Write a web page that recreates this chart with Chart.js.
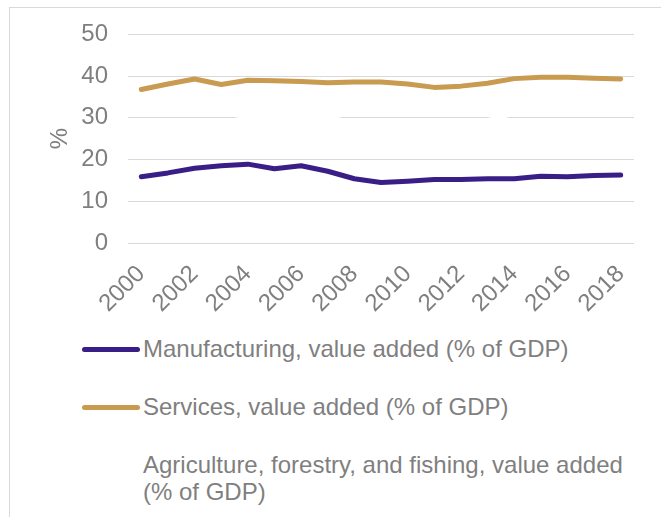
<!DOCTYPE html>
<html>
<head>
<meta charset="utf-8">
<script src="https://cdn.jsdelivr.net/npm/chart.js@4"></script>
<style>
    html, body { margin: 0; padding: 0; background: #ffffff; }
    body { width: 661px; height: 517px; position: relative; overflow: hidden; font-family: "Liberation Sans", Arial, sans-serif; }
    .frame { position: absolute; left: 9px; top: 7px; right: -2px; bottom: -2px; border-left: 1px solid #d9d9d9; border-top: 1px solid #d9d9d9; }
    .chart-box { position: absolute; left: 0; top: 0; width: 661px; height: 321px; }
    .legend { position: absolute; left: 82px; top: 335px; width: 570px; color: #7f7f7f; font-size: 24px; line-height: 27px; }
    .legend-item { position: relative; padding-left: 61px; margin-bottom: 31px; }
    .legend-item .swatch { position: absolute; left: 0; top: 12px; width: 58px; height: 5px; border-radius: 3px; }
</style>
</head>
<body>
<div class="frame"></div>
<div class="chart-box"><canvas id="valueAddedChart" width="661" height="321"></canvas></div>
<div class="legend" id="legend"></div>

<script>
// Value added by sector, % of GDP
const years = ['2000', '2001', '2002', '2003', '2004', '2005', '2006', '2007', '2008', '2009',
               '2010', '2011', '2012', '2013', '2014', '2015', '2016', '2017', '2018'];
const manufacturing = [15.9, 16.8, 17.9, 18.5, 18.9, 17.8, 18.5, 17.2, 15.4, 14.5,
                       14.8, 15.2, 15.2, 15.4, 15.4, 16.0, 15.9, 16.2, 16.3];
const services = [36.8, 38.1, 39.3, 38.0, 39.0, 38.9, 38.7, 38.4, 38.6, 38.6,
                  38.1, 37.3, 37.6, 38.3, 39.4, 39.7, 39.7, 39.5, 39.3];
const agriculture = [26.0, 27.0, 28.0, 28.8, 30.0, 30.2, 30.0, 30.2, 28.6, 28.0,
                     28.4, 28.7, 29.0, 29.3, 31.2, 31.5, 31.4, 31.2, 31.0];
const yTicks = [0, 10, 20, 30, 40, 50];

const seriesNames = [
    'Manufacturing, value added (% of GDP)',
    'Services, value added (% of GDP)',
    'Agriculture, forestry, and fishing, value added (% of GDP)'
];
const seriesColors = ['#3a1e87', '#c89b50', '#ffffff'];

function makeDataset(label, data, color) {
    return {
        label: label,
        data: data,
        borderColor: color,
        backgroundColor: color,
        borderWidth: 5,
        borderCapStyle: 'round',
        borderJoinStyle: 'round',
        pointRadius: 0,
        tension: 0,
        fill: false
    };
}

const tickFont = { family: '"Liberation Sans", Arial, sans-serif', size: 24 };
const tickColor = '#7f7f7f';

new Chart(document.getElementById('valueAddedChart'), {
    type: 'line',
    data: {
        labels: years,
        datasets: [
            makeDataset(seriesNames[0], manufacturing, seriesColors[0]),
            makeDataset(seriesNames[1], services, seriesColors[1]),
            makeDataset(seriesNames[2], agriculture, seriesColors[2])
        ]
    },
    options: {
        responsive: false,
        animation: false,
        layout: { padding: { top: 27, right: 27, bottom: 0, left: 0 } },
        plugins: {
            legend: { display: false },
            title: { display: false },
            tooltip: { enabled: false }
        },
        scales: {
            x: {
                offset: true,
                grid: { display: false },
                border: { display: false },
                ticks: {
                    color: tickColor,
                    font: tickFont,
                    autoSkip: false,
                    maxRotation: 45,
                    minRotation: 45,
                    padding: 9,
                    callback: function (value, index) {
                        return index % 2 === 0 ? years[index] : '';
                    }
                },
                afterFit: function (scale) { scale.height = 78; }
            },
            y: {
                min: 0,
                max: 50,
                afterBuildTicks: function (scale) {
                    scale.ticks = yTicks.map(v => ({ value: v }));
                },
                grid: { color: '#d9d9d9', lineWidth: 1, drawTicks: false },
                border: { display: false },
                ticks: { color: tickColor, font: tickFont, padding: 20 },
                title: {
                    display: true,
                    text: '%',
                    color: tickColor,
                    font: tickFont,
                    padding: { top: 46, bottom: 0 }
                },
                afterFit: function (scale) { scale.width = 128; }
            }
        }
    }
});

// Line-sample legend listed under the plot
const legendEl = document.getElementById('legend');
seriesNames.forEach((name, i) => {
    const item = document.createElement('div');
    item.className = 'legend-item';
    const swatch = document.createElement('span');
    swatch.className = 'swatch';
    swatch.style.background = seriesColors[i];
    item.appendChild(swatch);
    item.appendChild(document.createTextNode(name));
    legendEl.appendChild(item);
});
</script>
</body>
</html>
